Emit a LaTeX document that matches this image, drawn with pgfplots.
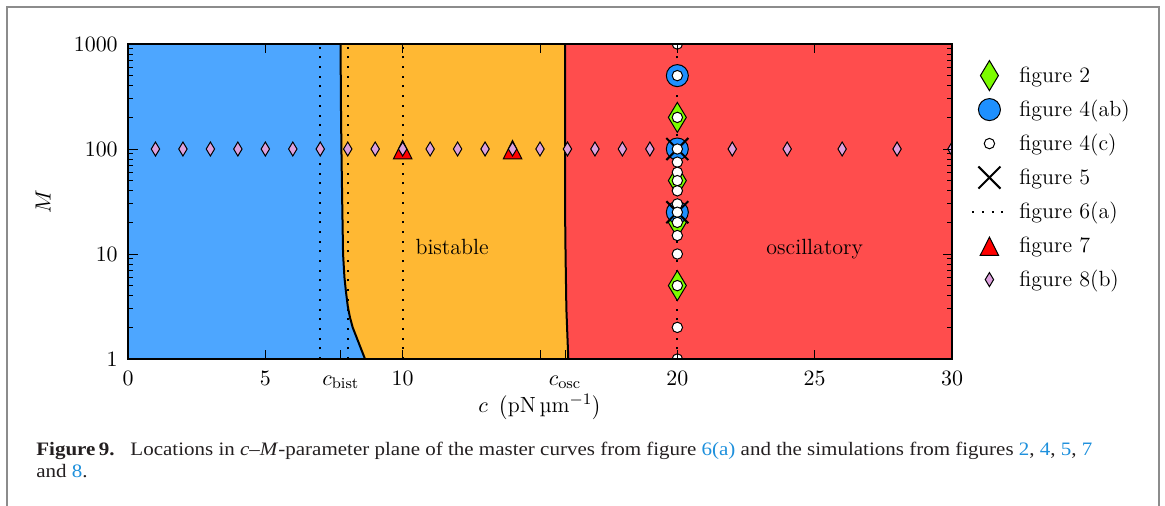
\documentclass[border=0pt]{standalone}
\usepackage{fontspec}
\usepackage{graphicx}
\usepackage{pgfplots}
\pgfplotsset{compat=1.18}
\newfontfamily\capfont{Liberation Serif}
\definecolor{regblue}{RGB}{77,166,255}
\definecolor{regorange}{RGB}{255,184,51}
\definecolor{regred}{RGB}{255,77,77}
\definecolor{mblue}{RGB}{30,144,255}
\definecolor{mgreen}{RGB}{124,252,0}
\definecolor{mplum}{RGB}{221,160,221}
\definecolor{linkblue}{RGB}{30,144,220}
\definecolor{captext}{RGB}{35,31,32}
\definecolor{framegray}{RGB}{140,140,140}
\pgfplotsset{
  figtwo/.style={only marks, mark=diamond*, mark size=7.5pt, mark options={fill=mgreen, draw=black, line width=0.5pt, xscale=0.8}},
  figfourab/.style={only marks, mark=*, mark size=5.5pt, mark options={fill=mblue, draw=black, line width=0.5pt}},
  figfourc/.style={only marks, mark=*, mark size=2.6pt, mark options={fill=white, draw=black, line width=0.5pt}},
  figfive/.style={only marks, mark=x, mark size=7.8pt, mark options={draw=black, line width=1pt}},
  figsixa/.style={black, line width=1pt, dash pattern=on 1pt off 3.85pt},
  figseven/.style={only marks, mark=triangle*, mark size=5.3pt, mark options={fill=red, draw=black, line width=0.5pt, yscale=1.15, yshift=-1.6pt}},
  figeightb/.style={only marks, mark=diamond*, mark size=3.5pt, mark options={fill=mplum, draw=black, line width=0.5pt, xscale=0.8}},
}
\newcommand\lineone{{\bfseries Figure\,9.}\hspace{0.75em}Locations in \textit{c}–\textit{M}-parameter plane of the master curves from figure \textcolor{linkblue}{6(a)} and the simulations from figures \textcolor{linkblue}{2}, \textcolor{linkblue}{4}, \textcolor{linkblue}{5}, \textcolor{linkblue}{7}}
\newlength\capw
\begin{document}%
\fontsize{11}{13}\selectfont%
\settowidth\capw{\capfont\fontsize{9.5}{11}\selectfont\lineone}%
\pgfmathsetmacro\capf{528/\capw}%
\begin{tikzpicture}
\useasboundingbox (0,0) rectangle (582.5pt,252.5pt);
\draw[framegray, line width=0.8pt] (3.5pt,-1pt) -- (3.5pt,249pt) -- (579.5pt,249pt) -- (579.5pt,-1pt);
\begin{axis}[
  at={(64pt,73pt)}, anchor=south west,
  scale only axis, width=412pt, height=157.5pt,
  xmin=0, xmax=30, ymode=log, ymin=1, ymax=1000,
  xtick={0,5,7.75,10,15,15.91,20,25,30},
  xticklabels={$0$,$5$,$c_{\mathrm{bist}}$,$10$,,$c_{\mathrm{osc}}$,$20$,$25$,$30$},
  ytick={1,10,100,1000}, yticklabels={$1$,$10$,$100$,$1000$},
  minor ytick={2,3,4,5,6,7,8,9,20,30,40,50,60,70,80,90,200,300,400,500,600,700,800,900},
  tick align=inside, major tick length=4.75pt, minor tick length=2.5pt,
  axis line style={line width=1pt}, tick style={black, line width=0.5pt},
  xticklabel style={anchor=base, yshift=-13.3pt},
  yticklabel style={xshift=-1.3pt},
  xlabel={$c\ \left(\mathrm{pN}\,\mbox{µm}^{-1}\right)$},
  ylabel={$M$},
  xlabel style={at={(axis description cs:0.5,-0.152)}, anchor=center},
  ylabel style={at={(axis description cs:-0.103,0.5)}, anchor=center},
  axis on top, clip marker paths=true,
  legend style={at={(1.023,0.955)}, anchor=north west, draw=none, fill=none, inner sep=0pt, row sep=0pt, column sep=5.5pt,
    nodes={inner sep=0.5pt, text height=11.5pt, text depth=4.5pt}},
  legend cell align=left,
]
% regions
\addplot[fill=regblue, draw=none, forget plot] coordinates {(0,1) (0,1000) (7.74,1000) (7.75,300) (7.77,100) (7.80,30) (7.83,10) (7.88,6) (7.93,4.5) (8.0,3.2) (8.08,2.5) (8.18,2.0) (8.63,1)};
\addplot[fill=regorange, draw=none, forget plot] coordinates {(7.74,1000) (7.75,300) (7.77,100) (7.80,30) (7.83,10) (7.88,6) (7.93,4.5) (8.0,3.2) (8.08,2.5) (8.18,2.0) (8.63,1) (16.03,1) (15.96,3) (15.93,10) (15.91,30) (15.91,1000)};
\addplot[fill=regred, draw=none, forget plot] coordinates {(15.91,1000) (15.91,30) (15.93,10) (15.96,3) (16.03,1) (30,1) (30,1000)};
% boundaries
\addplot[black, line width=1pt, forget plot] coordinates {(7.74,1000) (7.75,300) (7.77,100) (7.80,30) (7.83,10) (7.88,6) (7.93,4.5) (8.0,3.2) (8.08,2.5) (8.18,2.0) (8.63,1)};
\addplot[black, line width=1pt, forget plot] coordinates {(15.91,1000) (15.91,30) (15.93,10) (15.96,3) (16.03,1)};
% figure 6(a) master curves
\addplot[figsixa, forget plot] coordinates {(7,1) (7,1000)};
\addplot[figsixa, forget plot] coordinates {(8,1) (8,1000)};
\addplot[figsixa, forget plot] coordinates {(10,1) (10,1000)};
\addplot[figsixa, forget plot] coordinates {(20,1) (20,1000)};
% figure 7
\addplot[figseven, forget plot] coordinates {(10,100) (14,100)};
% figure 8(b)
\addplot[figeightb, forget plot] coordinates {(1,100) (2,100) (3,100) (4,100) (5,100) (6,100) (7,100) (8,100) (9,100) (10,100) (11,100) (12,100) (13,100) (14,100) (15,100) (16,100) (17,100) (18,100) (19,100) (20,100) (22,100) (24,100) (26,100) (28,100) (30,100)};
% figure 2
\addplot[figtwo, forget plot] coordinates {(20,200) (20,50) (20,20) (20,5)};
% figure 4(ab)
\addplot[figfourab, forget plot] coordinates {(20,500) (20,100) (20,25)};
% figure 5
\addplot[figfive, forget plot] coordinates {(20,100) (20,25)};
% figure 4(c)
\addplot[figfourc, forget plot] coordinates {(20,1000) (20,500) (20,200) (20,100) (20,75) (20,60) (20,50) (20,40) (20,30) (20,25) (20,20) (20,15) (20,10) (20,5) (20,2) (20,1)};
% legend
\addlegendimage{figtwo}\addlegendentry{figure 2}
\addlegendimage{figfourab}\addlegendentry{figure 4(ab)}
\addlegendimage{figfourc}\addlegendentry{figure 4(c)}
\addlegendimage{figfive}\addlegendentry{figure 5}
\addlegendimage{figsixa}\addlegendentry{figure 6(a)}
\addlegendimage{figseven}\addlegendentry{figure 7}
\addlegendimage{figeightb}\addlegendentry{figure 8(b)}
\node[anchor=base] at (axis cs:11.8,9.8) {bistable};
\node[anchor=base] at (axis cs:25,9.8) {oscillatory};
\end{axis}
\node[anchor=base west, inner sep=0pt, text=captext] at (18pt,24.75pt) {\capfont\fontsize{9.5}{11}\selectfont\scalebox{\capf}[1]{\lineone}};
\node[anchor=base west, inner sep=0pt, text=captext] at (18pt,14pt) {\capfont\fontsize{9.5}{11}\selectfont\scalebox{\capf}[1]{and \textcolor{linkblue}{8}.}};
\end{tikzpicture}%
\end{document}
